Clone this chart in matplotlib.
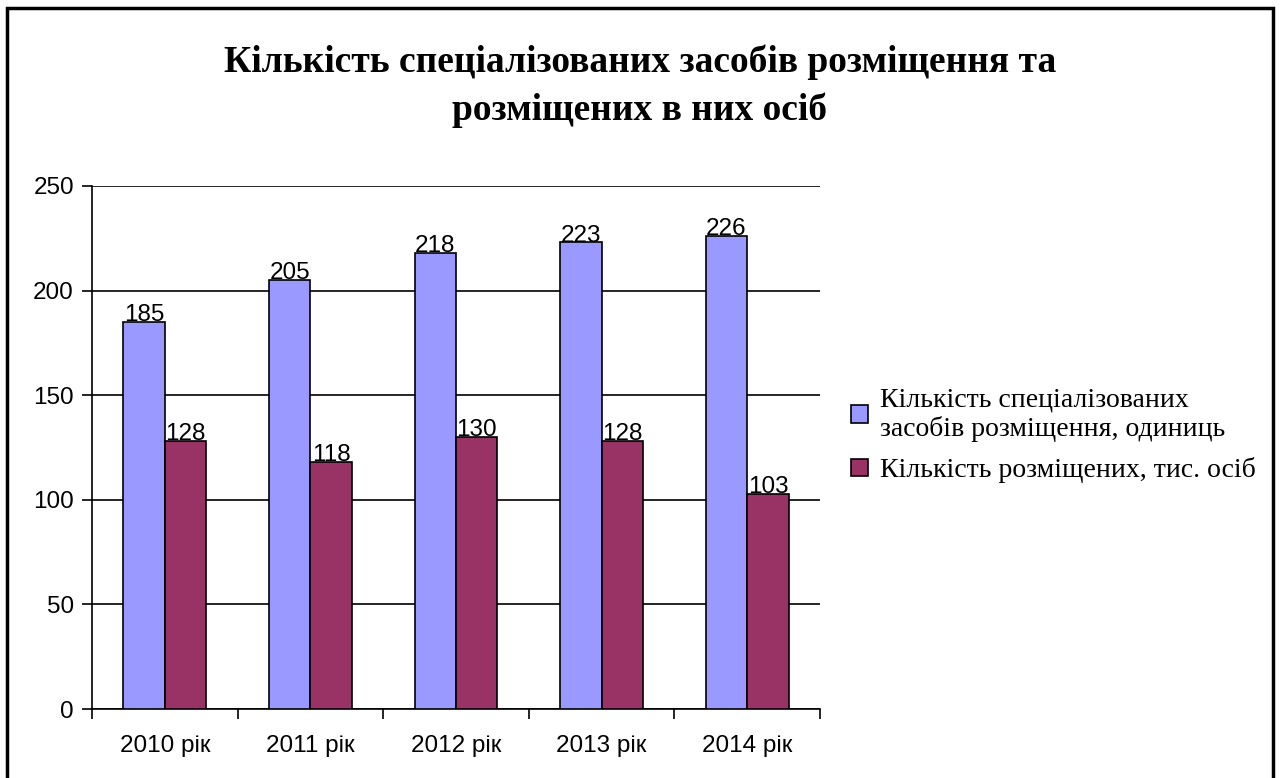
import numpy as np
import matplotlib.pyplot as plt
from matplotlib.patches import Rectangle

years = ["2010 рік", "2011 рік", "2012 рік", "2013 рік", "2014 рік"]
facilities = [185, 205, 218, 223, 226]
guests = [128, 118, 130, 128, 103]
label_facilities = "Кількість спеціалізованих\nзасобів розміщення, одиниць"
label_guests = "Кількість розміщених, тис. осіб"
title = "Кількість спеціалізованих засобів розміщення та\nрозміщених в них осіб"

fig = plt.figure(figsize=(12.81, 7.78), dpi=100)
ax = fig.add_axes([92 / 1281, 69 / 778, 728 / 1281, 523 / 778])

x = np.arange(len(years))
w = 0.285
b1 = ax.bar(x - w / 2, facilities, w, color="#9999FF", edgecolor="black", linewidth=1.2,
            label=label_facilities, zorder=3)
b2 = ax.bar(x + w / 2, guests, w, color="#993366", edgecolor="black", linewidth=1.2,
            label=label_guests, zorder=3)

for bars, vals in ((b1, facilities), (b2, guests)):
    for r, v in zip(bars, vals):
        ax.text(r.get_x() + r.get_width() / 2, v - 2, str(v), ha="center", va="bottom",
                fontsize=17.5, family="Liberation Sans", zorder=4)

ax.set_xlim(-0.5, len(years) - 0.5)
ax.set_ylim(0, 250)
ax.set_yticks(range(0, 251, 50))
ax.yaxis.grid(True, color="black", linewidth=1.2, zorder=0)
ax.set_xticks(x)
ax.set_xticklabels(years)
ax.set_xticks(np.arange(-0.5, len(years), 1), minor=True)
ax.tick_params(axis="x", which="major", length=0, pad=19)
ax.tick_params(axis="x", which="minor", length=7, width=1.2, direction="out")
ax.tick_params(axis="y", length=7, width=1.2, pad=6)
for lab in ax.get_xticklabels() + ax.get_yticklabels():
    lab.set_fontsize(17.5)
    lab.set_family("Liberation Sans")
for s in ("top", "right"):
    ax.spines[s].set_visible(False)
ax.spines["left"].set_linewidth(1.2)
ax.spines["bottom"].set_linewidth(1.2)

fig.legend(handles=[b1, b2], loc="upper left", bbox_to_anchor=(851 / 1281, 1 - 387 / 778),
           frameon=False, prop={"family": "Liberation Serif", "size": 20},
           handlelength=0.6, handleheight=0.6, handletextpad=0.45, labelspacing=0.55,
           borderaxespad=0, borderpad=0)

fig.text(640 / 1281, 1 - 86 / 778, title, ha="center", va="center", fontsize=27,
         fontweight="bold", family="Liberation Serif", linespacing=1.45)

fig.patches.append(Rectangle((7 / 1281, -0.05), 1266 / 1281, 1.05 - 8 / 778,
                             transform=fig.transFigure, fill=False, edgecolor="black",
                             linewidth=2.5))

fig.savefig("out.png", dpi=100)
